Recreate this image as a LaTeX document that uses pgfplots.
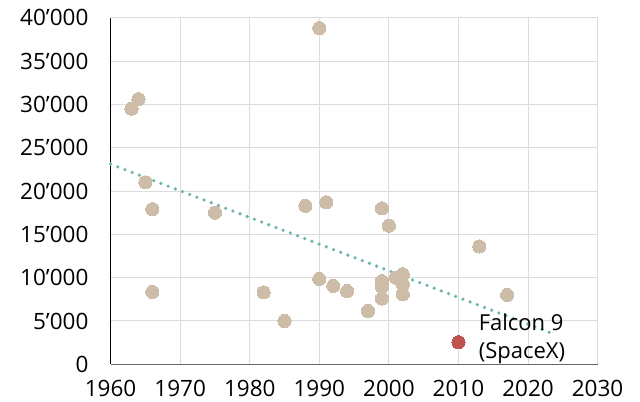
\documentclass[border=0pt]{standalone}
\usepackage{fontspec}
\setmainfont{Open Sans}
\usepackage{pgfplots}
\pgfplotsset{compat=1.18}
\definecolor{tan}{RGB}{205,188,168}
\definecolor{redpt}{RGB}{192,82,82}
\definecolor{trend}{RGB}{108,180,174}
\definecolor{gridc}{RGB}{220,220,220}
\begin{document}
\begin{tikzpicture}
\useasboundingbox (-110.6bp,-37.7bp) rectangle (529.4bp,364.3bp);
\begin{axis}[
  scale only axis,
  width=487bp, height=346.6bp,
  xmin=1960, xmax=2030, ymin=0, ymax=40000,
  xtick={1960,1970,...,2030},
  xticklabels={1960,1970,1980,1990,2000,2010,2020,2030},
  ytick={0,5000,...,40000},
  yticklabels={0,5’000,10’000,15’000,20’000,25’000,30’000,35’000,40’000},
  major tick length=0pt,
  tick label style={font=\fontsize{22.5bp}{26bp}\selectfont, text=black},
  xticklabel style={inner sep=0pt, anchor=north, yshift=-16bp},
  yticklabel style={inner sep=0pt, anchor=east, xshift=-22bp},
  grid=major,
  major grid style={draw=gridc, line width=1bp},
  axis lines=left,
  x axis line style={-, draw=black!60, line width=1.2bp},
  y axis line style={-, draw=black, line width=1bp},
  scaled y ticks=false,
  clip=false,
]
\addplot[only marks, color=tan, mark=*, mark size=6.6bp, mark options={draw=tan, fill=tan, line width=0pt}] coordinates {
(1964,30600) (1963,29500) (1965,21000) (1966,17900) (1975,17500) (1966,8350)
(1982,8300) (1988,18300) (1991,18700) (1999,18000) (2000,16000) (1985,5000)
(1990,9850) (1992,9050) (1994,8450) (1997,6150) (1999,9600) (1999,8950)
(1999,7600) (2001,10000) (2002,10400) (2002,9250) (2002,8100) (1990,38800)
(2013,13600) (2017,8000)
};
\addplot[only marks, color=redpt, mark=*, mark size=6.6bp, mark options={draw=redpt, fill=redpt, line width=0pt}] coordinates {(2010,2550)};
\addplot[trend, line width=3.6bp, line cap=round, dash pattern=on 0pt off 7.7bp] coordinates {(1960,23100) (2023.2,3650)};
\node[anchor=west, align=left, font=\fontsize{22bp}{28bp}\selectfont, text=black, inner sep=0pt] at (axis cs:2012.9,2950) {Falcon 9\\(SpaceX)};
\end{axis}
\end{tikzpicture}
\end{document}
